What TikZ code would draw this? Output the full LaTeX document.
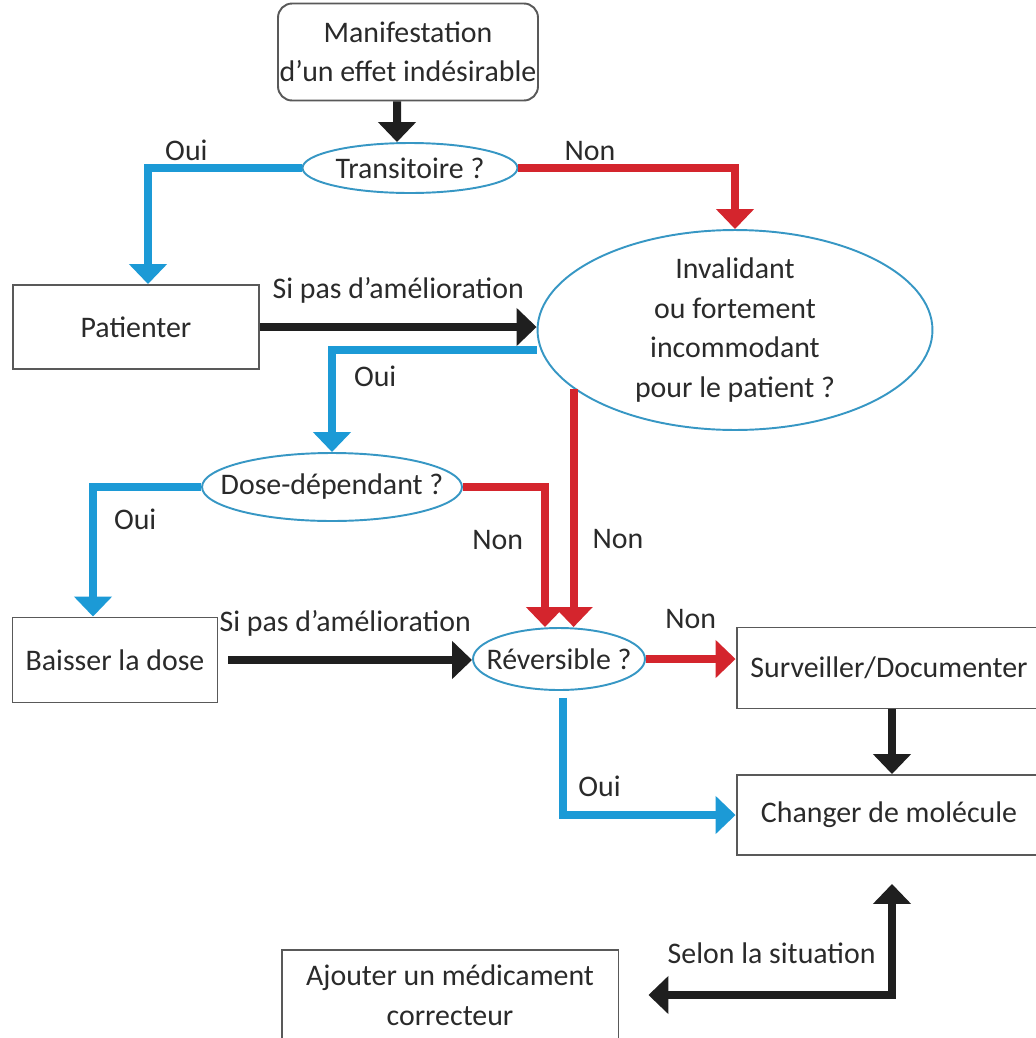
\documentclass[tikz,border=0pt]{standalone}
\usepackage{fontspec}
\setmainfont{Carlito}
\usepackage{tikz}
\usetikzlibrary{arrows.meta,shapes.geometric}
\definecolor{ouiblue}{HTML}{1C9AD6}
\definecolor{nonred}{HTML}{D4252D}
\definecolor{bordblue}{HTML}{3797C4}
\definecolor{texte}{HTML}{2A2A2A}

\begin{document}
\begin{tikzpicture}[x=0.02cm,y=-0.02cm,
  >={Triangle[width=0.74cm,length=0.4cm]},
  every node/.style={font=\fontsize{17}{22.5}\selectfont,text=texte},
  boite/.style={draw=black!65,line width=1.1pt,inner sep=0pt,align=center},
  question/.style={ellipse,draw=bordblue,line width=1.1pt,inner sep=-1cm,align=center},
  fleche/.style={line width=0.16cm,->},
  oui/.style={fleche,ouiblue},
  non/.style={fleche,nonred},
  suite/.style={fleche,black!88},
  etiq/.style={inner sep=2pt}]
  \useasboundingbox (0,0) rectangle (1035,1038);

  % noeuds
  \node[boite,rounded corners=8pt,minimum width=5.2cm,minimum height=1.94cm] (manif) at (408,52)
    {Manifestation\\d’un effet indésirable};
  \node[question,minimum width=4.3cm,minimum height=1cm] (transit) at (410,168) {Transitoire ?};
  \node[boite,minimum width=4.92cm,minimum height=1.68cm] (patienter) at (136,327) {Patienter};
  \node[question,minimum width=7.9cm,minimum height=4cm] (invalid) at (735,330)
    {Invalidant\\ou fortement\\incommodant\\pour le patient ?};
  \node[question,minimum width=5.2cm,minimum height=1.36cm] (dose) at (332,487) {Dose-dépendant ?};
  \node[boite,minimum width=4.1cm,minimum height=1.7cm] (baisser) at (115,660) {Baisser la dose};
  \node[question,minimum width=3.44cm,minimum height=1.24cm] (revers) at (559,659) {Réversible ?};
  \node[boite,minimum width=6.1cm,minimum height=1.62cm] (surv) at (889,668) {Surveiller/Documenter};
  \node[boite,minimum width=6.1cm,minimum height=1.6cm] (changer) at (889,815) {Changer de molécule};
  \node[boite,minimum width=6.74cm,minimum height=1.8cm] (ajouter) at (450,995)
    {Ajouter un médicament\\correcteur};

  % fleches
  \draw[suite] ([xshift=-0.22cm]manif.south) -- ([xshift=-0.26cm]transit.north);
  \draw[oui] (transit.west) -| ([xshift=0.24cm]patienter.north)
    node[etiq,pos=0.375,above=0pt] {Oui};
  \draw[non] (transit.east) -| (invalid.north)
    node[etiq,pos=0.165,above=0pt] {Non};
  \draw[suite] (patienter.east) -- (patienter.east -| invalid.west)
    node[etiq,midway,above=0.33cm] {Si pas d’amélioration};
  \draw[oui] ([yshift=-0.4cm]invalid.west) -| (dose.north)
    node[etiq,pos=0.63,right=0.29cm] {Oui};
  \draw[oui] (dose.west) -| ([xshift=-0.44cm]baisser.north)
    node[etiq,pos=0.625,right=0.27cm] {Oui};
  \draw[non] (dose.east) -| ([xshift=-0.28cm]revers.north)
    node[etiq,pos=0.69,left=0.29cm] {Non};
  \draw[non] (invalid.200) -- (invalid.200 |- revers.north)
    node[etiq,pos=0.63,right=0.23cm] {Non};
  \draw[suite,shorten <=0.2cm] (baisser.east) -- (baisser.east -| revers.west)
    node[etiq,midway,above=0.33cm] {Si pas d’amélioration};
  \draw[non] (revers.east) -- (revers.east -| surv.west)
    node[etiq,midway,above=0.45cm] {Non};
  \draw[oui] ([shift={(4,7)}]revers.south) |- (changer.west)
    node[etiq,pos=0.606,above=0.21cm] {Oui};
  \draw[suite] ([xshift=0.06cm]surv.south) -- ([xshift=0.06cm]changer.north);
  \draw[suite,<->] ([xshift=0.58cm]ajouter.east) -| ([shift={(3,28)}]changer.south)
    node[etiq,pos=0.253,above=0.47cm] {Selon la situation};
\end{tikzpicture}
\end{document}
